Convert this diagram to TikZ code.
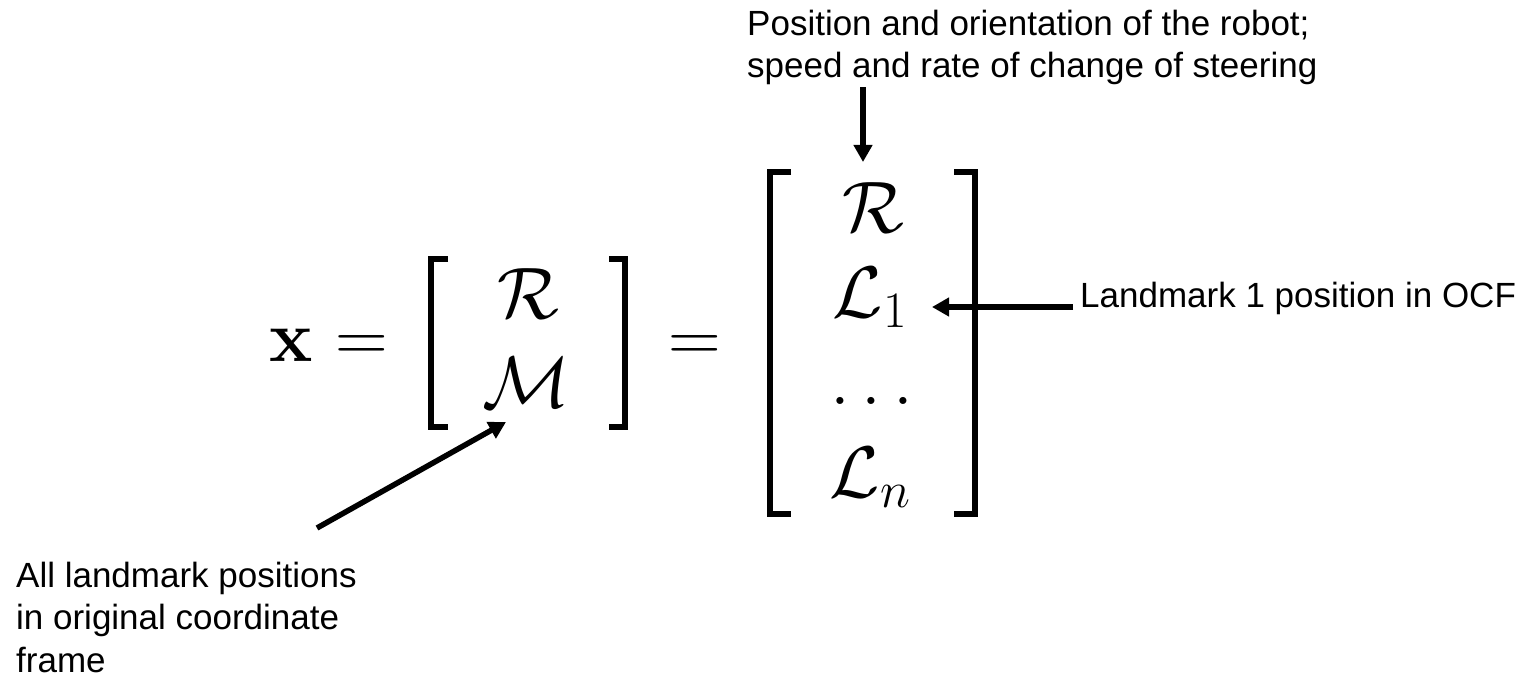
\RequirePackage{fix-cm}
\documentclass[tikz,border=0pt]{standalone}
\usepackage[no-math]{fontspec}
\setmainfont{Liberation Sans}
\usetikzlibrary{arrows.meta}
\begin{document}
\begin{tikzpicture}[x=1pt,y=-1pt,
  lab/.style={font=\fontsize{35}{42.5}\selectfont, inner sep=0pt, align=left},
  mth/.style={font=\fontsize{73}{88}\selectfont, inner sep=0pt, anchor=base},
  brk/.style={line width=6pt, line join=miter, line cap=butt},
  arr/.style={line width=5.5pt, -{Triangle[length=17pt,width=18pt]}}]
\useasboundingbox (0,0) rectangle (1536,682);
% equation
\node[mth] (xv) at (291,361) {$\mathbf{x}$};
\node[mth] (eqa) at (361.5,361) {$=$};
\node[mth] (r1) at (528,318) {$\mathcal{R}$};
\node[mth] (m1) at (526,407) {$\mathcal{M}$};
\node[mth] (eqb) at (694.5,361) {$=$};
\node[mth] (r2) at (873,232) {$\mathcal{R}$};
\node[mth] (l1) at (870,317) {$\mathcal{L}_1$};
\node[mth] (dd) at (872,404) {$\dots$};
\node[mth] (ln) at (870,497) {$\mathcal{L}_n$};
% brackets
\draw[brk] (448,259) -- (431,259) -- (431,427) -- (448,427);
\draw[brk] (609,259) -- (625,259) -- (625,427) -- (609,427);
\draw[brk] (791,172) -- (770,172) -- (770,514) -- (791,514);
\draw[brk] (954,172) -- (975,172) -- (975,514) -- (954,514);
% labels (base anchor = baseline of the last line)
\node[lab, anchor=base west] (top) at (747,78) {Position and orientation of the robot;\\ speed and rate of change of steering};
\node[lab, anchor=base west] (lm1) at (1080,307) {Landmark 1 position in OCF};
\node[lab, anchor=base west] (all) at (16,672) {All landmark positions\\ in original coordinate\\ frame};
% arrows
\coordinate (ta) at (863,162);
\draw[arr] ([yshift=-2pt]top.south -| ta) -- (ta);
\coordinate (tb) at (932,307);
\draw[arr] ([xshift=-7pt]lm1.west |- tb) -- (tb);
\coordinate (sc) at (317,528);
\coordinate (tc) at (506,422);
\draw[arr] (sc) -- (tc);
\end{tikzpicture}
\end{document}
